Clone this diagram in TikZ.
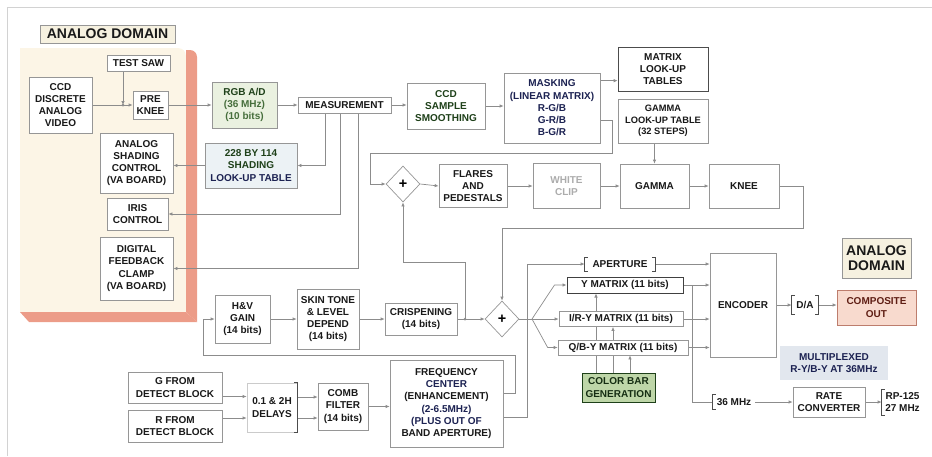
\documentclass[tikz,border=0pt]{standalone}
\usepackage{fontspec}
\setmainfont{Liberation Sans}
\usetikzlibrary{shapes.geometric, arrows.meta, backgrounds, positioning}
\definecolor{cream}{RGB}{252,245,230}
\definecolor{salmon}{RGB}{236,156,136}
\definecolor{wirec}{RGB}{140,140,140}
\definecolor{edge}{RGB}{150,150,150}
\definecolor{dgreen}{RGB}{30,64,25}
\definecolor{mgreen}{RGB}{70,110,60}
\definecolor{navy}{RGB}{28,34,82}
\definecolor{maroon}{RGB}{95,30,20}
\definecolor{lgreen}{RGB}{234,241,224}
\definecolor{lblue}{RGB}{236,242,245}
\definecolor{barfill}{RGB}{190,214,168}
\definecolor{compfill}{RGB}{248,218,206}
\definecolor{muxfill}{RGB}{226,231,238}
\definecolor{domfill}{RGB}{246,241,224}
\newcommand{\bxfont}{\fontsize{10}{12.2}\selectfont\bfseries}

\tikzset{
  blk/.style={draw=edge, fill=white, line width=0.7pt, align=center, font=\bxfont, inner sep=1pt, text=black!90},
  sumd/.style={diamond, draw=edge, fill=white, line width=0.7pt, inner sep=0pt, minimum width=34pt, minimum height=36pt, font=\Large\bfseries},
  arr/.style={draw=wirec, line width=0.7pt, -{Latex[length=4pt,width=3.5pt]}},
  wireln/.style={draw=wirec, line width=0.7pt},
  brk/.style={draw=black!70, line width=0.7pt},
}

\begin{document}
\begin{tikzpicture}[x=1pt, y=-1pt]

    \useasboundingbox (0,0) rectangle (932,456);

    % --- Analog domain panel ---
    \begin{scope}[on background layer]
    \draw[gray!35, line width=0.8pt] (7,456) -- (7,7) -- (932,7);
    \fill[cream] (20,312) -- (20,48) [rounded corners=8pt] -- (186,48) [sharp corners] -- (186,312) -- cycle;
    \fill[salmon] (186,50) [rounded corners=7pt] -- (197,50) [sharp corners] -- (197,322) -- (186,312) -- cycle;
    \fill[salmon] (20,312) -- (186,312) -- (197,322) -- (29,322) -- cycle;
    \end{scope}

    \node[blk, fill=domfill, minimum width=135pt, minimum height=18pt, font=\fontsize{14}{16}\selectfont\bfseries] (dom1) at (107.5,34) {ANALOG DOMAIN};
    \node[blk, minimum width=63pt, minimum height=16pt] (testsaw) at (138.5,63) {TEST SAW};
    \node[blk, minimum width=63pt, minimum height=56pt] (ccd) at (60.5,105) {CCD\\DISCRETE\\ANALOG\\VIDEO};
    \node[blk, minimum width=35pt, minimum height=28pt] (preknee) at (150.5,105) {PRE\\KNEE};
    \node[blk, minimum width=73pt, minimum height=60pt] (shade) at (136.5,163) {ANALOG\\SHADING\\CONTROL\\(VA BOARD)};
    \node[blk, minimum width=61pt, minimum height=32pt] (iris) at (137.5,214) {IRIS\\CONTROL};
    \node[blk, minimum width=73pt, minimum height=63pt] (clamp) at (136.5,268.5) {DIGITAL\\FEEDBACK\\CLAMP\\(VA BOARD)};

    % --- Digital front end ---
    \node[blk, fill=lgreen, text=dgreen, minimum width=65pt, minimum height=46pt] (rgbad) at (244.5,105) {RGB A/D\\\textcolor{mgreen}{(36 MHz)}\\\textcolor{mgreen}{(10 bits)}};
    \node[blk, fill=lblue, minimum width=92pt, minimum height=45pt] (lut) at (251,165.5) {\textcolor{dgreen}{228 BY 114}\\\textcolor{dgreen}{SHADING}\\\textcolor{navy}{LOOK-UP TABLE}};
    \node[blk, minimum width=93pt, minimum height=16pt] (meas) at (344.5,105) {MEASUREMENT};
    \node[blk, text=dgreen, minimum width=78pt, minimum height=46pt] (smooth) at (446,106) {CCD\\SAMPLE\\SMOOTHING};
    \node[blk, text=navy, minimum width=96pt, minimum height=70pt] (mask) at (552,108) {MASKING\\(LINEAR MATRIX)\\R-G/B\\G-R/B\\B-G/R};
    \node[blk, draw=black!70, minimum width=90pt, minimum height=44pt] (mlut) at (663,69) {MATRIX\\LOOK-UP\\TABLES};
    \node[blk, font=\fontsize{9.3}{11.7}\selectfont\bfseries, minimum width=90pt, minimum height=44pt] (glut) at (663,121) {GAMMA\\LOOK-UP TABLE\\(32 STEPS)};

    \node[sumd] (sum1) at (403,184) {+};
    \node[blk, minimum width=68pt, minimum height=43pt] (flares) at (473,186) {FLARES\\AND\\PEDESTALS};
    \node[blk, text=gray!65, minimum width=67pt, minimum height=45pt] (wclip) at (566.5,186) {WHITE\\CLIP};
    \node[blk, minimum width=69pt, minimum height=44pt] (gamma) at (654.5,186) {GAMMA};
    \node[blk, minimum width=70pt, minimum height=44pt] (knee) at (744,186) {KNEE};

    % --- Detail path ---
    \node[blk, minimum width=55pt, minimum height=48pt] (hv) at (242.5,319) {H\&V\\GAIN\\(14 bits)};
    \node[blk, minimum width=62pt, minimum height=60pt] (skin) at (328,319) {SKIN TONE\\\& LEVEL\\DEPEND\\(14 bits)};
    \node[blk, minimum width=72pt, minimum height=32pt] (crisp) at (421,319) {CRISPENING\\(14 bits)};
    \node[sumd] (sum2) at (502,319) {+};

    \node[blk, minimum width=94pt, minimum height=31pt] (gdet) at (175,387.5) {G FROM\\DETECT BLOCK};
    \node[blk, minimum width=94pt, minimum height=32pt] (rdet) at (175,426) {R FROM\\DETECT BLOCK};
    \node[blk, draw=edge!50, minimum width=50pt, minimum height=49pt] (delay) at (272,407.5) {0.1 \& 2H\\DELAYS};
    \node[blk, minimum width=50pt, minimum height=47pt] (comb) at (343,406.5) {COMB\\FILTER\\(14 bits)};
    \node[blk, minimum width=113pt, minimum height=87pt] (freq) at (446.5,403.5) {FREQUENCY\\\textcolor{navy}{CENTER}\\(ENHANCEMENT)\\\textcolor{navy}{(2-6.5MHz)}\\\textcolor{navy}{(PLUS OUT OF}\\BAND APERTURE)};

    % --- Matrices and encoder ---
    \node[blk, draw=none, fill=none, minimum width=70pt, minimum height=13pt] (aper) at (620,264) {APERTURE};
    \node[blk, draw=black!75, line width=1pt, minimum width=116pt, minimum height=16pt] (ymat) at (625,285) {Y MATRIX (11 bits)};
    \node[blk, minimum width=124pt, minimum height=15pt] (imat) at (621,319) {I/R-Y MATRIX (11 bits)};
    \node[blk, minimum width=130pt, minimum height=15pt] (qmat) at (623,347.5) {Q/B-Y MATRIX (11 bits)};
    \node[blk, fill=barfill, draw=dgreen, text=dgreen!70!black, minimum width=73pt, minimum height=29pt] (cbar) at (618.5,387.5) {COLOR BAR\\GENERATION};
    \node[blk, minimum width=66pt, minimum height=104pt] (enc) at (743,305) {ENCODER};
    \node[blk, draw=none, fill=none, minimum width=26pt, minimum height=18pt] (da) at (805,305) {D/A};
    \node[blk, fill=compfill, draw=salmon!80!black, text=maroon, minimum width=79pt, minimum height=35pt] (comp) at (876.5,307.5) {COMPOSITE\\OUT};
    \node[blk, fill=domfill, minimum width=69pt, minimum height=40pt, font=\fontsize{14}{15}\selectfont\bfseries] (dom2) at (876.5,258) {ANALOG\\DOMAIN};
    \node[blk, draw=none, fill=muxfill, text=navy, minimum width=108pt, minimum height=34pt] (mux) at (834,363) {MULTIPLEXED\\R-Y/B-Y AT 36MHz};
    \node[blk, draw=none, fill=none, minimum width=42pt, minimum height=14pt] (mhz) at (734,402) {36 MHz};
    \node[blk, minimum width=72pt, minimum height=30pt] (rate) at (829,402) {RATE\\CONVERTER};
    \node[blk, draw=none, fill=none, minimum width=41pt, minimum height=25pt] (rp) at (902.5,402) {RP-125\\27 MHz};

    % brackets
    \foreach \b in {aper, da} {
        \draw[brk] ([xshift=3pt]\b.north west) -- (\b.north west) -- (\b.south west) -- ([xshift=3pt]\b.south west);
        \draw[brk] ([xshift=-3pt]\b.north east) -- (\b.north east) -- (\b.south east) -- ([xshift=-3pt]\b.south east);
    }
    \foreach \b in {mhz, rp} {
        \draw[brk] ([xshift=3pt]\b.north west) -- (\b.north west) -- (\b.south west) -- ([xshift=3pt]\b.south west);
    }
    \draw[brk] ([xshift=-3pt]delay.north east) -- (delay.north east) -- (delay.south east) -- ([xshift=-3pt]delay.south east);

    % --- Connectors ---
    \coordinate (sawj) at (123,105);
    \coordinate (mt1) at (325,165.5);
    \coordinate (mt2) at (340,214);
    \coordinate (mt3) at (358,268.5);
    \coordinate (ml) at (612,153);
    \coordinate (sl) at (370,153);
    \coordinate (kl) at (803,228);
    \coordinate (cj) at (465,319);
    \coordinate (sj) at (403,262);
    \coordinate (fa) at (515,355);
    \coordinate (fb) at (203,355);
    \coordinate (fc) at (527,264);
    \coordinate (fan) at (532,319);
    \coordinate (bus) at (692,402);

    \begin{scope}[on background layer]
    % main row
    \draw[arr] (ccd.east) -- (preknee.west);
    \draw[arr] (testsaw.south -| sawj) -- (sawj);
    \fill[wirec] (sawj) circle (1.5pt);
    \draw[arr] (preknee.east) -- (rgbad.west);
    \draw[arr] (rgbad.east) -- (meas.west);
    \draw[arr] (meas.east) -- (meas.east -| smooth.west);
    \draw[arr] (smooth.east) -- (smooth.east -| mask.west);
    \draw[arr] ([yshift=-8pt]mask.north east) -- ([yshift=-8pt]mask.north east -| mlut.west);
    \draw[arr] ([yshift=-12pt]mask.east) -| (ml) -- (sl) |- (sum1.west);

    % measurement feedback
    \draw[arr] (meas.south -| mt1) -- (mt1) -- (lut.east);
    \draw[arr] (lut.west) -- (lut.west -| shade.east);
    \draw[arr] (meas.south -| mt2) -- (mt2) -- (iris.east);
    \draw[arr] (meas.south -| mt3) -- (mt3) -- (clamp.east);

    % process chain
    \draw[arr] (sum1.east) -- (flares.west);
    \draw[arr] (flares.east) -- (wclip.west);
    \draw[arr] (wclip.east) -- (gamma.west);
    \draw[arr] (glut.south -| gamma.north) -- (gamma.north);
    \draw[arr] (gamma.east) -- (knee.west);
    \draw[arr] (knee.east) -| (kl) -| (sum2.north);

    % detail path
    \draw[arr] (hv.east) -- (skin.west);
    \draw[arr] (skin.east) -- (crisp.west);
    \draw[arr] (crisp.east) -- (sum2.west);
    \draw[arr] (cj) |- (sj) -- (sum1.south);
    \fill[wirec] (cj) circle (1.5pt);
    \draw[arr] ([yshift=-9pt]gdet.east) -- ([yshift=-9pt]gdet.east -| delay.west);
    \draw[arr] ([yshift=8pt]rdet.east) -- ([yshift=8pt]rdet.east -| delay.west);
    \draw[arr] ([yshift=10.5pt]delay.east) -- ([yshift=10.5pt]delay.east -| comb.west);
    \draw[arr] ([yshift=-10.5pt]delay.east) -- ([yshift=-10.5pt]delay.east -| comb.west);
    \draw[arr] (comb.east) -- (comb.east -| freq.west);
    \draw[arr] ([yshift=10pt]freq.east) -| (fa) -- (fb) |- (hv.west);
    \draw[arr] ([yshift=-14pt]freq.east) -| (fc) -- (aper.west);

    % matrices
    \draw[arr] (sum2.east) -- (imat.west);
    \draw[arr] (fan) -- ([xshift=-12pt]ymat.west) -- (ymat.west);
    \draw[arr] (fan) -- ([xshift=-10pt]qmat.west) -- (qmat.west);
    \foreach \dx/\m in {-22.5/ymat, -5.5/imat, 11.5/qmat} {
        \draw[arr] ([xshift=\dx pt]cbar.north) -- ([xshift=\dx pt]cbar.north |- \m.south);
    }
    \foreach \m in {aper, ymat, imat, qmat} {
        \draw[arr] (\m.east) -- (\m.east -| enc.west);
    }
    \draw[wireln] (ymat.east -| bus) -- (bus) -- (mhz.west);

    % outputs
    \draw[arr] (enc.east) -- (da.west);
    \draw[arr] (da.east) -- (da.east -| comp.west);
    \draw[arr] (mhz.east) -- (rate.west);
    \draw[arr] (rate.east) -- (rp.west);
    \end{scope}

\end{tikzpicture}
\end{document}
